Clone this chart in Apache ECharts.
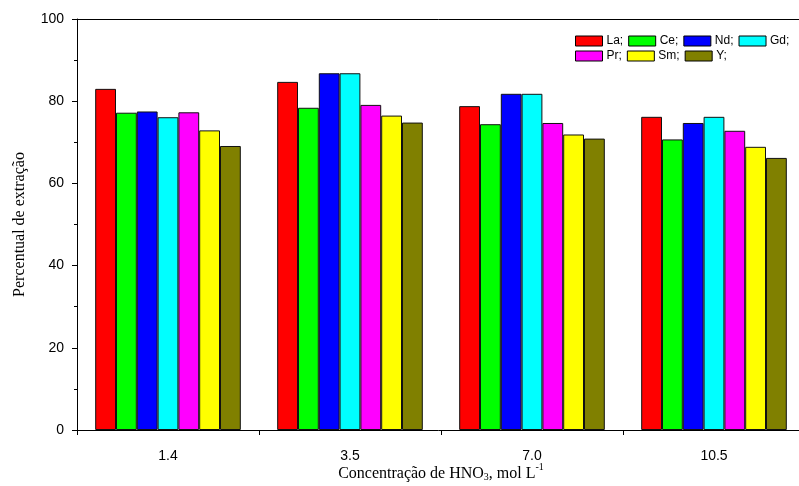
<!DOCTYPE html>
<html>
<head>
<meta charset="utf-8">
<script src="https://cdn.jsdelivr.net/npm/echarts@6/dist/echarts.min.js"></script>
<style>html,body{margin:0;padding:0;background:#fff}#c{width:799px;height:486px}</style>
</head>
<body>
<div id="c"></div>
<script>
const categories = ['1.4', '3.5', '7.0', '10.5'];
const seriesNames = ['La', 'Ce', 'Nd', 'Gd', 'Pr', 'Sm', 'Y'];
const La = [83.0, 84.7, 78.8, 76.2];
const Ce = [77.2, 78.4, 74.4, 70.7];
const Nd = [77.5, 86.8, 81.8, 74.7];
const Gd = [76.1, 86.8, 81.8, 76.2];
const Pr = [77.3, 79.1, 74.7, 72.8];
const Sm = [72.9, 76.5, 71.9, 68.9];
const Yv = [69.1, 74.8, 70.9, 66.2];
const seriesValues = [La, Ce, Nd, Gd, Pr, Sm, Yv];
const colors = ['#ff0000', '#00ff00', '#0000ff', '#00ffff', '#ff00ff', '#ffff00', '#808000'];
const yTicks = { min: 0, max: 100, interval: 20 };

const chart = echarts.init(document.getElementById('c'), null, { renderer: 'canvas' });
const axisFont = { fontFamily: 'Liberation Sans, Arial', fontSize: 14, color: '#000' };
const legendCommon = {
  itemWidth: 27, itemHeight: 10, itemGap: 5, icon: 'rect',
  textStyle: { fontFamily: 'Liberation Sans, Arial', fontSize: 12, color: '#000', padding: [0, 0, 0, -1] },
  formatter: n => n + ';', selectedMode: false, padding: 0,
  itemStyle: { borderColor: '#000', borderWidth: 1 }
};
chart.setOption({
  animation: false,
  color: colors,
  grid: { left: 77, top: 19, width: 728, height: 411, containLabel: false, outerBoundsMode: 'none' },
  legend: [
    Object.assign({ left: 575, top: 35, data: seriesNames.slice(0, 4) }, legendCommon),
    Object.assign({ left: 575, top: 50, data: seriesNames.slice(4) }, legendCommon)
  ],
  xAxis: [{
    type: 'category', data: categories, position: 'bottom',
    axisLine: { lineStyle: { color: '#000', width: 1 } },
    axisTick: { show: true, inside: false, length: 5, lineStyle: { color: '#000' } },
    axisLabel: Object.assign({ margin: 19 }, axisFont),
    name: '{a|Concentração de HNO}{s|3}{a|, mol L}{p|-1}',
    nameLocation: 'middle', nameGap: 32, nameMoveOverlap: false,
    nameTextStyle: {
      rich: {
        a: { fontFamily: 'Liberation Serif, Times New Roman', fontSize: 16, color: '#000', verticalAlign: 'bottom' },
        s: { fontFamily: 'Liberation Serif, Times New Roman', fontSize: 10, color: '#000', padding: [8, 0, 0, 0], verticalAlign: 'bottom' },
        p: { fontFamily: 'Liberation Serif, Times New Roman', fontSize: 10, color: '#000', padding: [0, 0, 10, 0], verticalAlign: 'bottom' }
      }
    }
  }, {
    type: 'category', data: categories, position: 'top',
    axisLine: { lineStyle: { color: '#000', width: 1 } },
    axisTick: { show: false }, axisLabel: { show: false }
  }],
  yAxis: {
    type: 'value', min: yTicks.min, max: yTicks.max, interval: yTicks.interval,
    axisLine: { show: true, lineStyle: { color: '#000', width: 1 } },
    axisTick: { show: true, inside: false, length: 5, lineStyle: { color: '#000' } },
    minorTick: { show: true, splitNumber: 2, length: 3, lineStyle: { color: '#000' } },
    splitLine: { show: false },
    axisLabel: Object.assign({ margin: 13 }, axisFont),
    name: 'Percentual de extração', nameLocation: 'middle', nameGap: 49, nameMoveOverlap: false,
    nameTextStyle: { fontFamily: 'Liberation Serif, Times New Roman', fontSize: 16, color: '#000' }
  },
  series: seriesNames.map((n, i) => ({
    name: n, type: 'bar', data: seriesValues[i],
    barGap: 0, barCategoryGap: '20%',
    itemStyle: { color: colors[i], borderColor: '#111', borderWidth: 1 }
  }))
});
</script>
</body>
</html>
